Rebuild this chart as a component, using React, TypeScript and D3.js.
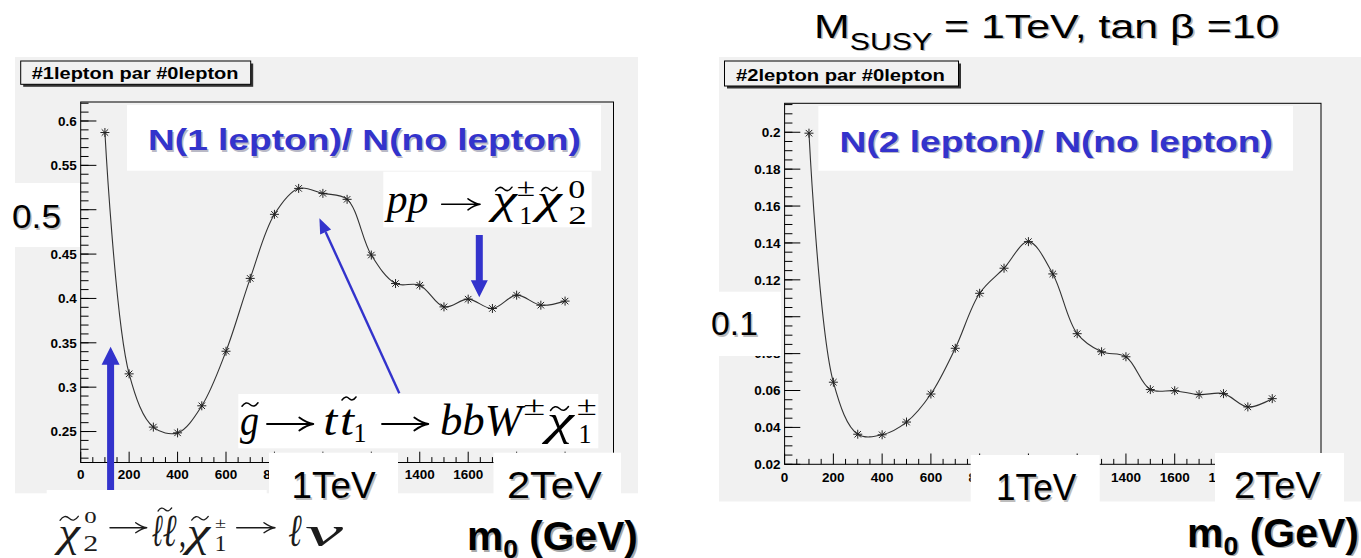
import React, { useLayoutEffect, useRef, useState } from 'react';
import * as d3 from 'd3';

// ---------- data ----------
const massPoints = [100, 200, 300, 400, 500, 600, 700, 800, 900, 1000, 1100, 1200, 1300, 1400, 1500, 1600, 1700, 1800, 1900, 2000];
const ratio1Lepton = [0.587, 0.315, 0.255, 0.2485, 0.279, 0.3405, 0.4226, 0.4948, 0.524, 0.5184, 0.5117, 0.4489, 0.4168, 0.4149, 0.3905, 0.3992, 0.3887, 0.4037, 0.3924, 0.397];
const ratio2Lepton = [0.1995, 0.0645, 0.0363, 0.036, 0.0429, 0.0581, 0.0829, 0.1127, 0.1263, 0.1407, 0.1232, 0.0908, 0.081, 0.0783, 0.0605, 0.0599, 0.0578, 0.0583, 0.0511, 0.0556];
const xTickLabels = [0, 200, 400, 600, 800, 1000, 1200, 1400, 1600, 1800, 2000];
const leftYTicks = [0.25, 0.3, 0.35, 0.4, 0.45, 0.5, 0.55, 0.6];
const rightYTicks = [0.02, 0.04, 0.06, 0.08, 0.1, 0.12, 0.14, 0.16, 0.18, 0.2];
const leftTitle = '#1lepton par #0lepton';
const rightTitle = '#2lepton par #0lepton';
const leftHeadline = 'N(1 lepton)/ N(no lepton)';
const rightHeadline = 'N(2 lepton)/ N(no lepton)';

const BLUE = '#3333cc';
const GRAY = '#f1f1f1';
const SANS = '"Liberation Sans", Arial, Helvetica, sans-serif';
const SERIF = '"Liberation Serif", "DejaVu Serif", "Times New Roman", serif';

// ---------- helpers ----------
function FitText({ x, y, width, render, shadow, off = 1.6 }: any) {
  const ref = useRef<SVGGElement>(null);
  const [t, setT] = useState({ s: 1, bx: 0 });
  useLayoutEffect(() => {
    if (!ref.current) return;
    const b = ref.current.getBBox();
    if (b.width > 0) setT({ s: width / b.width, bx: b.x });
  }, [width]);
  return (
    <g transform={`translate(${x - t.bx * t.s},${y}) scale(${t.s},1)`}>
      {shadow && <g transform={`translate(${off / t.s},${off})`}>{render(shadow)}</g>}
      <g ref={ref}>{render(null)}</g>
    </g>
  );
}

function Star({ x, y }: { x: number; y: number }) {
  const r = 4.5, d = r * 0.72;
  return (
    <g transform={`translate(${x},${y})`} stroke="#222" strokeWidth={1}>
      <line x1={-r} y1={0} x2={r} y2={0} />
      <line x1={0} y1={-r} x2={0} y2={r} />
      <line x1={-d} y1={-d} x2={d} y2={d} />
      <line x1={-d} y1={d} x2={d} y2={-d} />
    </g>
  );
}

function Panel({ frame, yDomain, values, yTicks, yMinor, labelBase }: any) {
  const x = d3.scaleLinear().domain([0, 2200]).range([frame.x0, frame.x1]);
  const y = d3.scaleLinear().domain(yDomain).range([frame.y1, frame.y0]);
  const majLenY = 15.7, majLenX = 10.8;
  const xMinor = d3.range(0, 2200 + 1, 50);
  const yMin = d3.range(Math.ceil(yDomain[0] / yMinor - 1e-6) * yMinor, yDomain[1], yMinor);
  const line = d3.line<number>()
    .x((_, i) => x(massPoints[i]))
    .y((v) => y(v))
    .curve(d3.curveCatmullRom.alpha(0.5));
  const fmt = (v: number) => String(+v.toFixed(3));
  return (
    <g>
      <rect x={frame.x0} y={frame.y0} width={frame.x1 - frame.x0} height={frame.y1 - frame.y0} fill={GRAY} stroke="#000" strokeWidth={1} />
      {yMin.map((v: number, i: number) => (
        <line key={'ym' + i} x1={frame.x0} x2={frame.x0 + majLenY / 2} y1={y(v)} y2={y(v)} stroke="#000" strokeWidth={1} />
      ))}
      {yTicks.map((v: number) => (
        <g key={'y' + v}>
          <line x1={frame.x0} x2={frame.x0 + majLenY} y1={y(v)} y2={y(v)} stroke="#000" strokeWidth={1} />
          <text x={frame.x0 - 4} y={y(v) + 4.8} textAnchor="end" fontFamily={SANS} fontWeight="bold" fontSize={13.5} fill="#000">{fmt(v)}</text>
        </g>
      ))}
      {xMinor.map((v: number) => (
        <line key={'xm' + v} x1={x(v)} x2={x(v)} y1={frame.y1} y2={frame.y1 - (v % 200 === 0 ? majLenX : majLenX / 2)} stroke="#000" strokeWidth={1} />
      ))}
      {xTickLabels.map((v: number) => (
        <text key={'xl' + v} x={x(v)} y={labelBase} textAnchor="middle" fontFamily={SANS} fontWeight="bold" fontSize={13.5} fill="#000">{v}</text>
      ))}
      <path d={line(values) || ''} fill="none" stroke="#333" strokeWidth={1.1} />
      {values.map((v: number, i: number) => <Star key={'s' + i} x={x(massPoints[i])} y={y(v)} />)}
    </g>
  );
}

function TitlePave({ x, y, w, h, tx, tw, ty, text }: any) {
  return (
    <g>
      <rect x={x + 2.5} y={y + 2.5} width={w} height={h} fill="#333" />
      <rect x={x} y={y} width={w} height={h} fill={GRAY} stroke="#000" strokeWidth={1} />
      <FitText x={tx} y={ty} width={tw} render={() => (
        <text fontFamily={SANS} fontWeight="bold" fontSize={16} fill="#000">{text}</text>
      )} />
    </g>
  );
}

function PlainText({ x, y, width, size, text, bold }: any) {
  return (
    <FitText x={x} y={y} width={width} shadow="#bdbdbd" render={(c: any) => (
      <text fontFamily={SANS} fontSize={size} fontWeight={bold ? 'bold' : 'normal'} fill={c || '#000'}>{text}</text>
    )} />
  );
}

function MassLabel({ x, y, width }: any) {
  return (
    <FitText x={x} y={y} width={width} shadow="#a8a8a8" render={(c: any) => (
      <text fontFamily={SANS} fontSize={40} fontWeight="bold" fill={c || '#000'}>
        <tspan>m</tspan>
        <tspan fontSize={26} dy={8}>0</tspan>
        <tspan dy={-8}> (GeV)</tspan>
      </text>
    )} />
  );
}

function BlockArrow({ x, tail, tip, shaftW, headW, headL }: any) {
  const dir = tip < tail ? -1 : 1;
  const base = tip - dir * headL;
  const p = d3.path();
  p.moveTo(x - shaftW / 2, tail);
  p.lineTo(x - shaftW / 2, base);
  p.lineTo(x - headW / 2, base);
  p.lineTo(x, tip);
  p.lineTo(x + headW / 2, base);
  p.lineTo(x + shaftW / 2, base);
  p.lineTo(x + shaftW / 2, tail);
  p.closePath();
  return <path d={p.toString()} fill={BLUE} />;
}

function ThinArrow({ x1, y1, x2, y2 }: any) {
  const ang = Math.atan2(y2 - y1, x2 - x1);
  const hl = 15, hw = 6;
  const bx = x2 - hl * Math.cos(ang), by = y2 - hl * Math.sin(ang);
  const nx = -Math.sin(ang), ny = Math.cos(ang);
  return (
    <g>
      <line x1={x1} y1={y1} x2={bx} y2={by} stroke={BLUE} strokeWidth={2.4} />
      <path d={`M${x2},${y2}L${bx + nx * hw},${by + ny * hw}L${bx - nx * hw},${by - ny * hw}Z`} fill={BLUE} />
    </g>
  );
}

// a math formula: glyph pieces placed in the formula's own layout, with tilde accents and arrows
function Formula({ pieces, tildes, arrows, color = '#000', tw = 1.5, aw = 1.6 }: any) {
  return (
    <g fill={color}>
      {pieces.map((p: any, i: number) => (
        <text key={i} x={p.x} y={p.y} fontFamily={SERIF} fontSize={p.s} fontStyle={p.it ? 'italic' : 'normal'}
          {...(p.w ? { textLength: p.w, lengthAdjust: 'spacingAndGlyphs' } : {})}>{p.t}</text>
      ))}
      {tildes.map((t: any, i: number) => {
        const w = t.x1 - t.x0, a = w * 0.11;
        const d = `M${t.x0},${t.y + a}Q${t.x0 + w * 0.25},${t.y - a * 2.2} ${t.x0 + w * 0.5},${t.y}Q${t.x0 + w * 0.75},${t.y + a * 2.2} ${t.x1},${t.y - a}`;
        return <path key={'t' + i} d={d} fill="none" stroke={color} strokeWidth={tw} strokeLinecap="round" />;
      })}
      {arrows.map((a: any, i: number) => {
        const d = `M${a.x0},${a.y}H${a.x1 - 0.5}M${a.x1 - a.hl},${a.y - a.hh}Q${a.x1 - a.hl * 0.45},${a.y - a.hh * 0.15} ${a.x1},${a.y}Q${a.x1 - a.hl * 0.45},${a.y + a.hh * 0.15} ${a.x1 - a.hl},${a.y + a.hh}`;
        return <path key={'a' + i} d={d} fill="none" stroke={color} strokeWidth={aw} strokeLinecap="round" strokeLinejoin="round" />;
      })}
    </g>
  );
}

export default function App() {
  const leftFrame = { x0: 80.7, x1: 613.5, y0: 102, y1: 462.5 };
  const rightFrame = { x0: 784.6, x1: 1321, y0: 103.3, y1: 464.3 };

  const ppPieces = [
    { t: 'pp', x: 386.7, y: 213.3, s: 40, it: true, w: 41.6 },
    { t: 'χ', x: 492.7, y: 213.3, s: 40, it: true, w: 24 },
    { t: '±', x: 516.7, y: 196, s: 25, w: 18.3 },
    { t: '1', x: 519.5, y: 224, s: 25, w: 12.5 },
    { t: 'χ', x: 536.7, y: 213.3, s: 40, it: true, w: 25 },
    { t: '0', x: 568.3, y: 198.3, s: 25, w: 17 },
    { t: '2', x: 568.3, y: 224, s: 25, w: 18.5 },
  ];
  const ppTildes = [{ x0: 495.5, x1: 512, y: 189 }, { x0: 541.5, x1: 557, y: 189 }];
  const ppArrows = [{ x0: 441.7, x1: 480, y: 204.3, hl: 12, hh: 5.5 }];

  const gluinoPieces = [
    { t: 'g', x: 240, y: 435, s: 44, it: true, w: 19 },
    { t: 't', x: 323.3, y: 435, s: 44, it: true, w: 14 },
    { t: 't', x: 340, y: 435, s: 44, it: true, w: 14 },
    { t: '1', x: 353.5, y: 442, s: 28, w: 13 },
    { t: 'bbW', x: 440, y: 435, s: 44, it: true, w: 82 },
    { t: '±', x: 523.3, y: 415, s: 28, w: 22 },
    { t: 'χ', x: 546.7, y: 435, s: 44, it: true, w: 27 },
    { t: '±', x: 576.7, y: 415, s: 28, w: 20 },
    { t: '1', x: 578.5, y: 443.3, s: 28, w: 13 },
  ];
  const gluinoTildes = [{ x0: 242, x1: 258, y: 404.5 }, { x0: 342, x1: 356, y: 398.5 }, { x0: 550.5, x1: 568.5, y: 408.5 }];
  const gluinoArrows = [
    { x0: 267, x1: 313.3, y: 424, hl: 14, hh: 6.5 },
    { x0: 382, x1: 428.3, y: 424, hl: 14, hh: 6.5 },
  ];

  const decayPieces = [
    { t: 'χ', x: 58.3, y: 546, s: 42, it: true, w: 21.7 },
    { t: '0', x: 84.3, y: 522.7, s: 17, w: 12.4 },
    { t: '2', x: 83.3, y: 551, s: 24, w: 15 },
    { t: 'ℓ', x: 151.7, y: 546, s: 46, it: true, w: 11 },
    { t: 'ℓ', x: 162.5, y: 546, s: 46, it: true, w: 14 },
    { t: ',', x: 179, y: 546, s: 42, w: 7 },
    { t: 'χ', x: 186.7, y: 546, s: 42, it: true, w: 23.3 },
    { t: '±', x: 215, y: 528, s: 14, w: 11 },
    { t: '1', x: 214.5, y: 551, s: 24, w: 12 },
    { t: 'ℓ', x: 288.3, y: 546, s: 46, it: true, w: 13.4 },
    { t: 'ν', x: 305, y: 546, s: 42, it: true, w: 38 },
  ];
  const decayTildes = [{ x0: 60, x1: 78.3, y: 518.3 }, { x0: 158, x1: 171.7, y: 509.5 }, { x0: 191.7, x1: 208.3, y: 518.3 }];
  const decayArrows = [
    { x0: 110, x1: 146.7, y: 527.7, hl: 11, hh: 5 },
    { x0: 236.7, x1: 275, y: 527.7, hl: 11, hh: 5 },
  ];

  return (
    <svg width={1361} height={558} style={{ position: 'absolute', left: 0, top: 0, background: '#fff' }}>
      {/* canvases */}
      <rect x={15} y={57} width={623} height={436.3} fill={GRAY} />
      <rect x={719} y={57} width={642} height={444.5} fill={GRAY} />

      <Panel frame={leftFrame} yDomain={[0.2151, 0.6214]} values={ratio1Lepton} yTicks={leftYTicks} yMinor={0.01} labelBase={478.5} />
      <Panel frame={rightFrame} yDomain={[0.02, 0.2157]} values={ratio2Lepton} yTicks={rightYTicks} yMinor={0.005} labelBase={481.5} />

      <TitlePave x={20.7} y={61} w={230} h={23.3} tx={31.7} tw={207} ty={79} text={leftTitle} />
      <TitlePave x={724.5} y={61} w={234} h={25} tx={736} tw={209} ty={80.5} text={rightTitle} />

      {/* headline boxes */}
      <rect x={127} y={105} width={474} height={65.7} fill="#fff" />
      <FitText x={148} y={150} width={433} shadow="#b9b9c6" off={1.5} render={(c: any) => (
        <text fontFamily={SANS} fontWeight="bold" fontSize={30} fill={c || BLUE}>{leftHeadline}</text>
      )} />
      <rect x={818.4} y={106} width={474.6} height={64.7} fill="#fff" />
      <FitText x={839.6} y={151.7} width={433.4} shadow="#b9b9c6" off={1.5} render={(c: any) => (
        <text fontFamily={SANS} fontWeight="bold" fontSize={30} fill={c || BLUE}>{rightHeadline}</text>
      )} />

      {/* arrows */}
      <ThinArrow x1={399.3} y1={393.3} x2={319.4} y2={218.3} />
      <BlockArrow x={479.3} tail={235} tip={297.3} shaftW={7} headW={17} headL={17} />
      <BlockArrow x={110.6} tail={507} tip={346.7} shaftW={7} headW={18} headL={18} />

      {/* pp -> chargino neutralino */}
      <rect x={383.3} y={171.7} width={208.4} height={55.6} fill="#fff" />
      <Formula pieces={ppPieces} tildes={ppTildes} arrows={ppArrows} />

      {/* gluino cascade */}
      <rect x={238.3} y={394} width={360} height={54.3} fill="#fff" />
      <Formula pieces={gluinoPieces} tildes={gluinoTildes} arrows={gluinoArrows} aw={1.8} />

      {/* big axis annotations */}
      <rect x={0} y={183} width={80} height={64} fill="#fff" />
      <PlainText x={12} y={228} width={49} size={34} text="0.5" />
      <rect x={705} y={291.7} width={76} height={64.3} fill="#fff" />
      <PlainText x={711} y={335} width={47} size={33} text="0.1" />

      <rect x={269} y={452.7} width={129} height={41.3} fill="#fff" />
      <PlainText x={291.6} y={498} width={84.4} size={37} text="1TeV" />
      <rect x={493.5} y={452.7} width={127.5} height={41.3} fill="#fff" />
      <PlainText x={507} y={498} width={95} size={37} text="2TeV" />
      <rect x={970.7} y={455} width={129} height={47} fill="#fff" />
      <PlainText x={996} y={500} width={80.5} size={37} text="1TeV" />
      <rect x={1215} y={453} width={129} height={49} fill="#fff" />
      <PlainText x={1234} y={498} width={87} size={37} text="2TeV" />

      <MassLabel x={467} y={550} width={171} />
      <MassLabel x={1187} y={546.7} width={172} />

      {/* bottom-left decay formula */}
      <rect x={46.7} y={490} width={220} height={68} fill="#fff" />
      <Formula pieces={decayPieces} tildes={decayTildes} arrows={decayArrows} color="#1c1c1c" tw={1.3} aw={1.4} />

      {/* global title */}
      <FitText x={814} y={37.7} width={465.5} shadow="#bdbdbd" render={(c: any) => (
        <text fontFamily={SANS} fontSize={34} fill={c || '#000'}>
          <tspan>M</tspan>
          <tspan fontSize={24} dy={12}>SUSY</tspan>
          <tspan dy={-12}> = 1TeV, tan β =10</tspan>
        </text>
      )} />
    </svg>
  );
}
